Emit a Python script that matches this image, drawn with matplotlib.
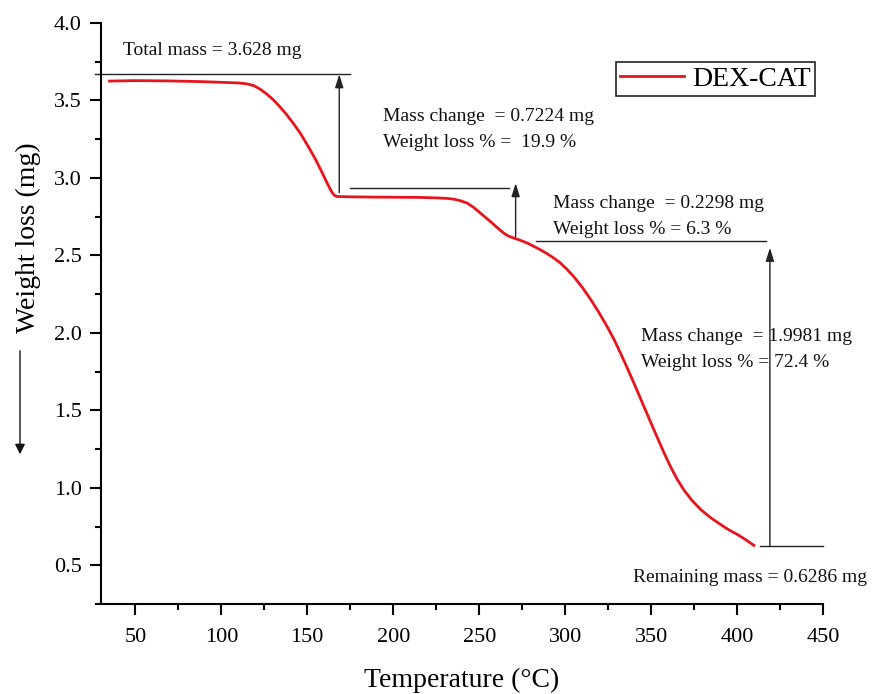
import matplotlib
matplotlib.use("Agg")
import matplotlib.pyplot as plt
from matplotlib.ticker import MultipleLocator

plt.rcParams['font.family'] = ['Liberation Serif', 'DejaVu Serif']

# TGA curve of DEX-CAT
temperature = [35, 50, 70, 90, 105, 110, 115, 119, 122.6, 126, 130.3, 134, 138.1, 142,
               145.9, 149, 151.7, 155, 157.5, 159.5, 161.4, 163.2, 164.6, 165.8, 167.2,
               175, 190, 205, 215.7, 225, 231, 235.1, 239, 242.9, 246.5, 250.7, 254,
               257.5, 261, 264.2, 267, 270.1, 274, 277.9, 281.5, 285.6, 289.5, 293.4,
               297.2, 301, 305, 310, 314.7, 319.5, 324.4, 328.5, 332.2, 335.5, 339,
               342.5, 345.8, 349.7, 353.6, 357.5, 361.3, 365, 369, 373.5, 378.8, 384.5,
               390.4, 395, 400.1, 405, 409.8]
weight = [3.625, 3.628, 3.626, 3.621, 3.615, 3.613, 3.607, 3.595, 3.573, 3.545, 3.504,
          3.46, 3.407, 3.35, 3.289, 3.232, 3.181, 3.115, 3.060, 3.014, 2.970, 2.930,
          2.903, 2.888, 2.880, 2.878, 2.876, 2.875, 2.874, 2.871, 2.868, 2.863, 2.853,
          2.838, 2.812, 2.773, 2.742, 2.709, 2.674, 2.644, 2.625, 2.612, 2.597, 2.580,
          2.560, 2.536, 2.511, 2.483, 2.451, 2.411, 2.363, 2.293, 2.218, 2.134, 2.041,
          1.956, 1.869, 1.789, 1.701, 1.611, 1.525, 1.424, 1.324, 1.226, 1.136, 1.058,
          0.987, 0.922, 0.860, 0.808, 0.763, 0.730, 0.699, 0.665, 0.628]

series_label = "DEX-CAT"
x_ticks = [50, 100, 150, 200, 250, 300, 350, 400, 450]
y_ticks = [0.5, 1.0, 1.5, 2.0, 2.5, 3.0, 3.5, 4.0]

# step annotations: (level line y, x from, x to)
level_lines = [(3.669, 26.5, 175.0), (2.938, 175.0, 267.6),
               (2.596, 283.3, 417.0), (0.623, 413.3, 450.0)]
# vertical arrows: (x, y tail, y head)
step_arrows = [(168.6, 2.906, 3.669), (271.2, 2.62, 2.966), (419.1, 0.623, 2.549)]
notes = [
    (42.8, 3.821, "Total mass = 3.628 mg"),
    (194.2, 3.394, "Mass change  = 0.7224 mg"),
    (194.2, 3.226, "Weight loss % =  19.9 %"),
    (293.0, 2.833, "Mass change  = 0.2298 mg"),
    (293.0, 2.670, "Weight loss % = 6.3 %"),
    (344.2, 1.974, "Mass change  = 1.9981 mg"),
    (344.2, 1.810, "Weight loss % = 72.4 %"),
    (339.3, 0.420, "Remaining mass = 0.6286 mg"),
]

fig = plt.figure(figsize=(8.75, 6.94), dpi=100)
ax = fig.add_axes([0.1154, 0.1297, 0.8252, 0.8372])

ax.plot(temperature, weight, color="#e8141b", lw=2, label=series_label)

for y, x0, x1 in level_lines:
    ax.plot([x0, x1], [y, y], color="#222222", lw=1, clip_on=False)
for x, y0, y1 in step_arrows:
    ax.annotate("", xy=(x, y1), xytext=(x, y0),
                arrowprops=dict(arrowstyle="-|>,head_length=0.8,head_width=0.25",
                                color="#222222", lw=1, shrinkA=0, shrinkB=0))
for x, y, s in notes:
    ax.text(x, y, s, fontsize=14, ha="left", va="center", color="#111111")

ax.set_xlim(30, 450)
ax.set_ylim(0.25, 4.0)
ax.set_xticks(x_ticks)
ax.set_yticks(y_ticks)
ax.set_yticklabels([f"{v:.1f}" for v in y_ticks])
ax.xaxis.set_minor_locator(MultipleLocator(25))
ax.yaxis.set_minor_locator(MultipleLocator(0.25))

for side in ["top", "right"]:
    ax.spines[side].set_visible(False)
for side in ["left", "bottom"]:
    ax.spines[side].set_linewidth(1.5)

ax.tick_params(which="major", direction="out", length=8, width=1.5, labelsize=16, pad=6)
ax.tick_params(axis="x", which="major", pad=9)
ax.tick_params(which="minor", direction="out", length=4.5, width=1.5)

ax.set_xlabel("Temperature (°C)", fontsize=20, labelpad=15)
fig.text(28 / 875, 1 - 238 / 694, "Weight loss (mg)", fontsize=20, rotation=90,
         ha="center", va="center")
fig.add_artist(matplotlib.patches.FancyArrowPatch(
    (20 / 875, 1 - 348 / 694), (20 / 875, 1 - 457 / 694), transform=fig.transFigure,
    arrowstyle="-|>,head_length=6,head_width=3", color="#111111", lw=1))

leg = ax.legend(loc="upper right", bbox_to_anchor=(0.989, 0.932), fontsize=20,
                frameon=True, fancybox=False, framealpha=1, edgecolor="#222222",
                handlelength=2.3, handletextpad=0.3, borderpad=0.15, borderaxespad=0)
leg.get_frame().set_linewidth(1.2)

fig.savefig("out.png", dpi=100)
